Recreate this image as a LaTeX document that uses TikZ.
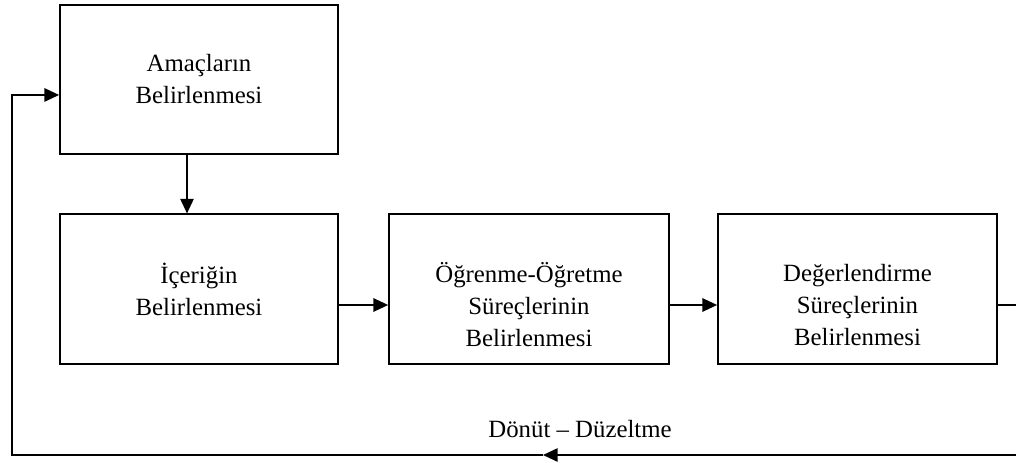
\documentclass[tikz,border=0pt]{standalone}
\usepackage{fontspec}
\setmainfont{Liberation Serif}
\usetikzlibrary{arrows.meta}
\begin{document}
\begin{tikzpicture}[x=0.75pt, y=-0.75pt, line cap=butt, line join=miter, >={Triangle[length=11pt,width=10pt]}, line width=1.3pt,
		kutu/.style={draw, minimum width=208.5pt, minimum height=112pt, inner sep=0pt},
		yazi/.style={align=center, inner sep=0pt, font=\fontsize{18.6}{24}\selectfont}]
			\useasboundingbox (0,0) rectangle (1016,463);
			\node[kutu] (amac) at (199,79.5) {};
			\node[kutu] (icerik) at (199,289) {};
			\node[kutu, minimum width=210pt] (ogr) at (529,289) {};
			\node[kutu, minimum width=209.25pt] (deger) at (857.5,289) {};
			\node[yazi] (amacyazi) at (amac) {Amaçların\\Belirlenmesi};
			\node[yazi] (icerikyazi) at (icerik) {İçeriğin\\Belirlenmesi};
			\node[yazi] (ogryazi) at ([yshift=-12pt]ogr.center) {Öğrenme-Öğretme\\Süreçlerinin\\Belirlenmesi};
			\node[yazi] (degeryazi) at ([yshift=-12pt]deger.center) {Değerlendirme\\Süreçlerinin\\Belirlenmesi};
			\draw[->] ([xshift=-9pt]amac.south) -- ([xshift=-9pt]icerik.north);
			\draw[->] ([yshift=-12pt]icerik.east) -- ([yshift=-12pt]ogr.west);
			\draw[->] ([yshift=-12pt]ogr.east) -- ([yshift=-12pt]deger.west);
			% geri bildirim dongusu
			\coordinate (sagalt) at (1018,455);
			\coordinate (orta) at (543,455);
			\coordinate (solalt) at (12,455);
			\draw[->] ([yshift=-12pt]deger.east) -| (sagalt) -- (orta);
			\draw[->] (orta) -- (solalt) |- ([yshift=-11.6pt]amac.west);
			\node[yazi, anchor=base] (donut) at (580,437) {Dönüt -- Düzeltme};
		\end{tikzpicture}
\end{document}
